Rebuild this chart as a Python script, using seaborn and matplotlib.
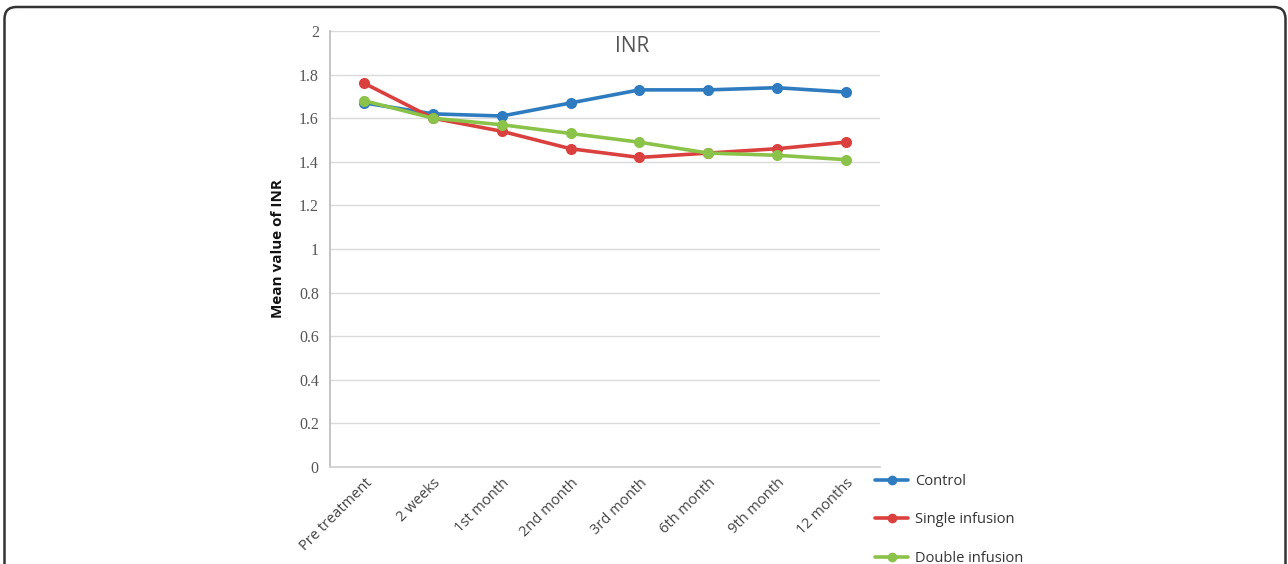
import matplotlib
matplotlib.use("Agg")
import matplotlib.pyplot as plt
from matplotlib.patches import FancyBboxPatch
from matplotlib.lines import Line2D
import numpy as np
import pandas as pd
import seaborn as sns

# Time points and mean INR per group
timepoints = ["Pre treatment", "2 weeks", "1st month", "2nd month",
              "3rd month", "6th month", "9th month", "12 months"]
control = [1.67, 1.62, 1.61, 1.67, 1.73, 1.73, 1.74, 1.72]
single_infusion = [1.76, 1.60, 1.54, 1.46, 1.42, 1.44, 1.46, 1.49]
double_infusion = [1.68, 1.60, 1.57, 1.53, 1.49, 1.44, 1.43, 1.41]
groups = ["Control", "Single infusion", "Double infusion"]
yticks = [0, 0.2, 0.4, 0.6, 0.8, 1, 1.2, 1.4, 1.6, 1.8, 2]
ytick_labels = ["0", "0.2", "0.4", "0.6", "0.8", "1", "1.2", "1.4", "1.6", "1.8", "2"]

colors = {"Control": "#2E7BC0", "Single infusion": "#D9403E", "Double infusion": "#8BC24A"}

rows = []
for name, vals in zip(groups, [control, single_infusion, double_infusion]):
    for i, (t, v) in enumerate(zip(timepoints, vals)):
        rows.append({"pos": i, "time": t, "group": name, "INR": v})
df = pd.DataFrame(rows)

sns.set_theme(style="white")
plt.rcParams["font.family"] = ["Open Sans", "DejaVu Sans"]

fig = plt.figure(figsize=(12.88, 5.64), dpi=100)
ax = fig.add_axes([0.2562, 0.172, 0.4270, 0.773])

sns.lineplot(data=df, x="pos", y="INR", hue="group", hue_order=groups,
             palette=colors, marker="o", markersize=8, linewidth=2.6,
             markeredgewidth=0, sort=False, legend=False, ax=ax, zorder=3)

ax.set_xlim(-0.5, len(timepoints) - 0.5)
ax.set_ylim(0, 2)
ax.set_yticks(yticks)
ax.set_yticklabels(ytick_labels, family="Liberation Serif", fontsize=11.5, color="#555555")
ax.set_xticks(range(len(timepoints)))
ax.set_xticklabels(timepoints, rotation=45, ha="right", rotation_mode="anchor",
                   fontsize=10.5, color="#444444")
ax.tick_params(axis="both", length=0, pad=8)
ax.tick_params(axis="x", pad=6)
ax.grid(axis="y", color="#DADADA", linewidth=1)
ax.grid(axis="x", visible=False)
for side in ["top", "right"]:
    ax.spines[side].set_visible(False)
ax.spines["left"].set_color("#BDBDBD")
ax.spines["bottom"].set_color("#D0D0D0")
ax.set_xlabel("")
ax.set_ylabel("Mean value of INR", fontsize=11, fontweight="bold", color="#111111", labelpad=10)

ax.text(0.55, 0.965, "INR", transform=ax.transAxes, ha="center", va="center",
        fontsize=15, color="#555555")

handles = [Line2D([0], [0], color=colors[g], marker="o", markersize=7,
                  markeredgewidth=0, linewidth=2.6) for g in groups]
fig.legend(handles, groups, loc="upper left", bbox_to_anchor=(0.6735, 0.173),
           frameon=False, fontsize=10.5, handlelength=2.3, handletextpad=0.45,
           labelspacing=1.62, labelcolor="#333333", borderpad=0)

# Rounded page frame
frame = FancyBboxPatch((0.045, -0.5), 12.81, 6.07,
                       boxstyle="round,pad=0,rounding_size=0.12",
                       transform=fig.dpi_scale_trans, fill=False,
                       edgecolor="#333333", linewidth=1.8)
fig.add_artist(frame)

fig.savefig("out.png", dpi=100, facecolor="white")
